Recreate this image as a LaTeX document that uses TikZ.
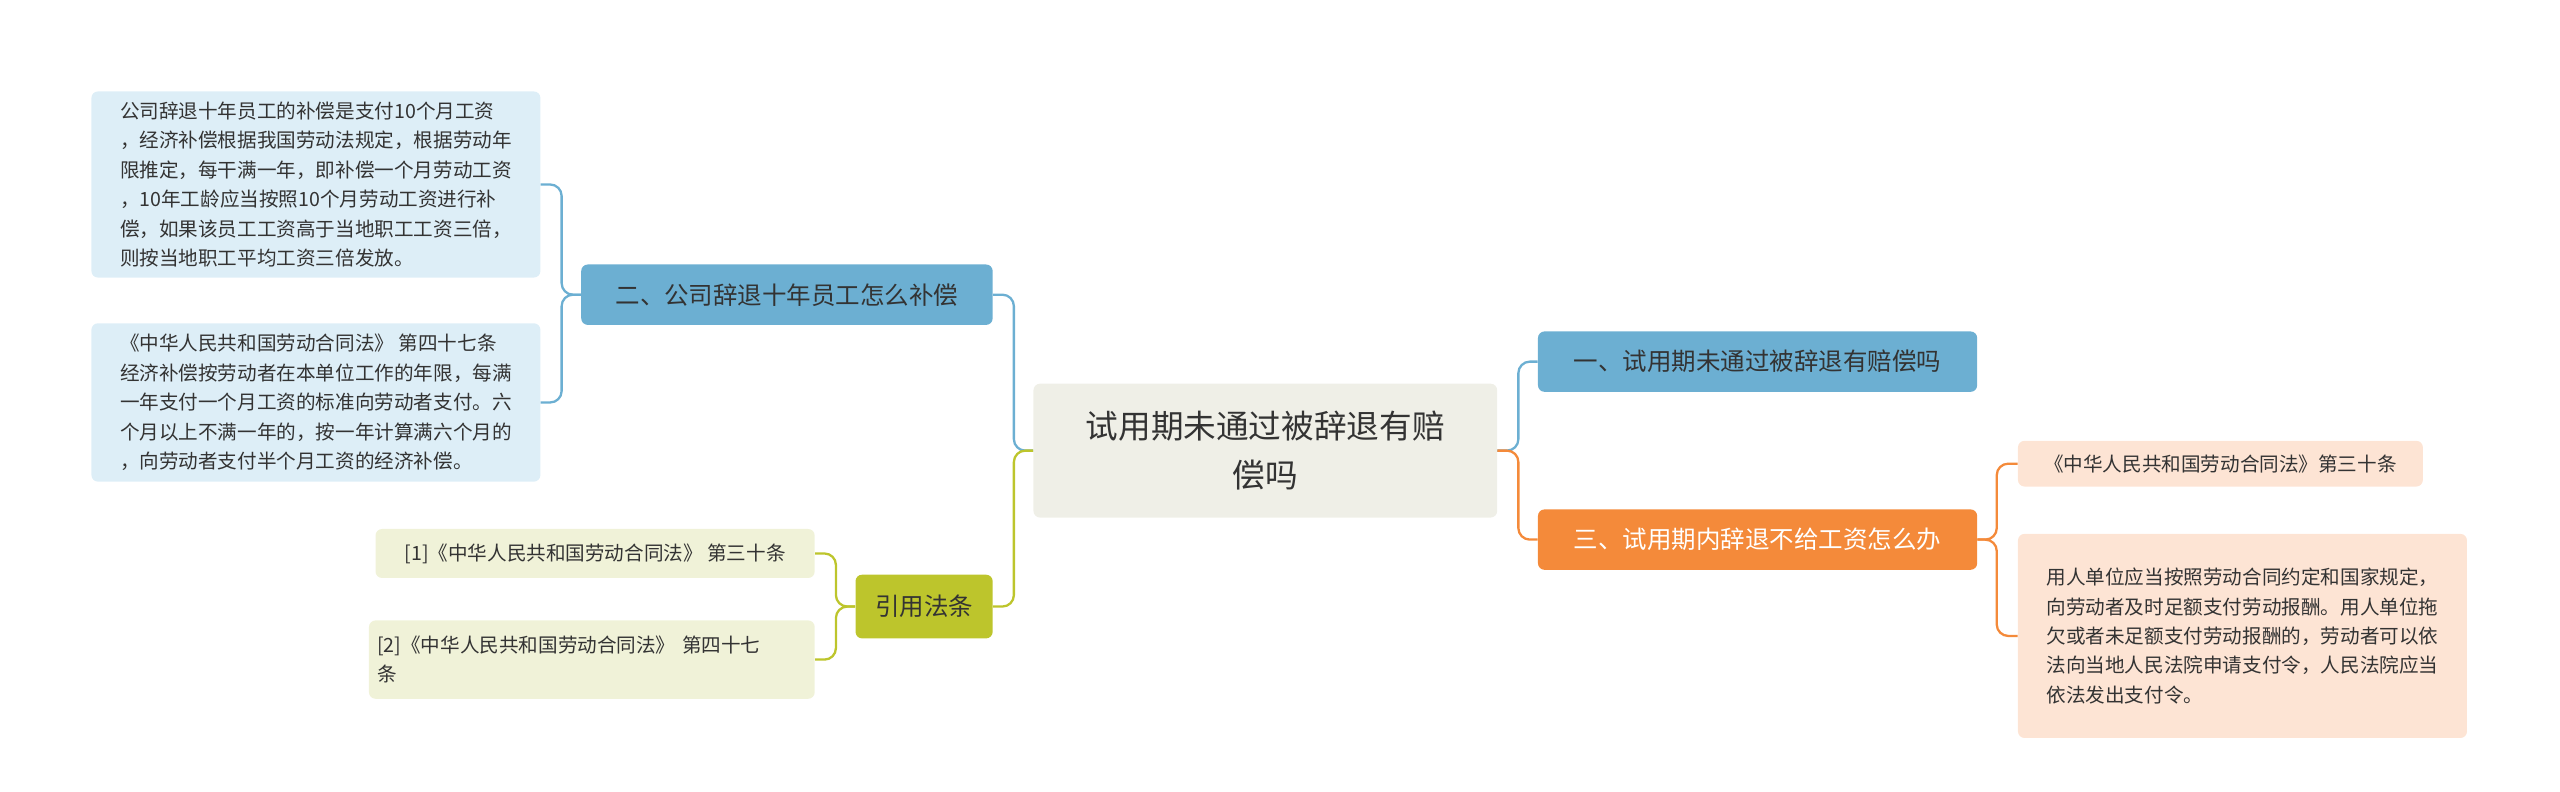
\documentclass[tikz,border=0pt]{standalone}
\usepackage{fontspec}
\setmainfont{Noto Sans CJK SC}
\begin{document}
\begin{tikzpicture}[x=1pt,y=-1pt,
 box/.style={rounded corners=4pt,inner sep=0pt,text=black!80,align=left},
 blu/.style={box,fill=blue1,font=\fontsize{15}{19}\selectfont},
 leaf/.style={box,font=\fontsize{12}{18}\selectfont},
 ln/.style={line width=1.4pt,rounded corners=7pt}]
\definecolor{blue1}{HTML}{6CAFD2}
\definecolor{blue2}{HTML}{DDEEF7}
\definecolor{ora}{HTML}{F48A3A}
\definecolor{ora2}{HTML}{FDE4D4}
\definecolor{oli}{HTML}{BDC52C}
\definecolor{oli2}{HTML}{F0F2D8}
\definecolor{cen}{HTML}{EFEFE7}
\useasboundingbox (0,0) rectangle (1568,485);
\node[box,fill=cen,minimum width=284,minimum height=82,align=center,font=\fontsize{20}{30}\selectfont] (c) at (775,276) {试用期未通过被辞退有赔\\偿吗};
\node[blu,minimum width=269,minimum height=37,align=center] (r1) at (1076.5,221.5) {一、试用期未通过被辞退有赔偿吗};
\node[box,fill=ora,text=white,font=\fontsize{15}{19}\selectfont,minimum width=269,minimum height=37,align=center] (r2) at (1076.5,330.5) {三、试用期内辞退不给工资怎么办};
\node[leaf,fill=ora2,minimum width=248,minimum height=28,align=center] (r21) at (1360,284) {《中华人民共和国劳动合同法》第三十条};
\node[leaf,fill=ora2,minimum width=275,minimum height=125] (r22) at (1373.5,389.5) {用人单位应当按照劳动合同约定和国家规定，\\向劳动者及时足额支付劳动报酬。用人单位拖\\欠或者未足额支付劳动报酬的，劳动者可以依\\法向当地人民法院申请支付令，人民法院应当\\依法发出支付令。};
\node[blu,minimum width=252,minimum height=37,align=center] (l1) at (482,180.5) {二、公司辞退十年员工怎么补偿};
\node[leaf,fill=blue2,minimum width=275,minimum height=114] (l11) at (193.5,113) {公司辞退十年员工的补偿是支付10个月工资\\，经济补偿根据我国劳动法规定，根据劳动年\\限推定，每干满一年，即补偿一个月劳动工资\\，10年工龄应当按照10个月劳动工资进行补\\偿，如果该员工工资高于当地职工工资三倍，\\则按当地职工平均工资三倍发放。};
\node[leaf,fill=blue2,minimum width=275,minimum height=97] (l12) at (193.5,246.5) {《中华人民共和国劳动合同法》 第四十七条\\经济补偿按劳动者在本单位工作的年限，每满\\一年支付一个月工资的标准向劳动者支付。六\\个月以上不满一年的，按一年计算满六个月的\\，向劳动者支付半个月工资的经济补偿。};
\node[box,fill=oli,font=\fontsize{15}{19}\selectfont,minimum width=84,minimum height=39,align=center] (l2) at (566,371.5) {引用法条};
\node[leaf,fill=oli2,minimum width=269,minimum height=30] (l21) at (364.5,339) {[1]《中华人民共和国劳动合同法》 第三十条};
\node[leaf,fill=oli2,minimum width=273,minimum height=48,text width=263] (l22) at (362.5,404) {[2]《中华人民共和国劳动合同法》 第四十七\\条};
\draw[ln,blue1] (c.east) -- (930,276) |- (r1.west);
\draw[ln,ora] (c.east) -- (930,276) |- (r2.west);
\draw[ln,ora] (r2.east) -- (1223,330.5) |- (r21.west);
\draw[ln,ora] (r2.east) -- (1223,330.5) |- (r22.west);
\draw[ln,blue1] (c.west) -- (621,276) |- (l1.east);
\draw[ln,oli] (c.west) -- (621,276) |- (l2.east);
\draw[ln,blue1] (l1.west) -- (344,180.5) |- (l11.east);
\draw[ln,blue1] (l1.west) -- (344,180.5) |- (l12.east);
\draw[ln,oli] (l2.west) -- (512,371.5) |- (l21.east);
\draw[ln,oli] (l2.west) -- (512,371.5) |- (l22.east);
\end{tikzpicture}
\end{document}
